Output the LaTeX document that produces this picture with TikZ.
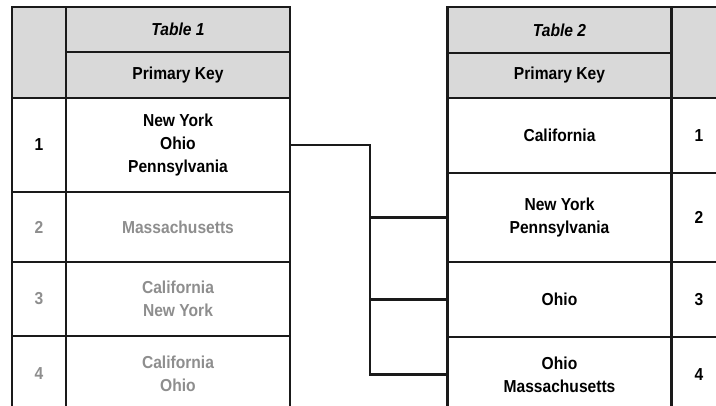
\documentclass[tikz,border=0pt]{standalone}
\usepackage{fontspec}
\setmainfont{Liberation Sans}[FakeStretch=0.9]
\usetikzlibrary{positioning}
\definecolor{ink}{HTML}{1A1A1A}
\definecolor{headgray}{HTML}{D9D9D9}
\definecolor{fade}{HTML}{8E8E8E}
\tikzset{
  cell/.style={rectangle, draw=ink, line width=2.2pt, fill=white, align=center,
               inner sep=0pt, font=\fontsize{13}{17}\selectfont\bfseries},
  headcell/.style={cell, fill=headgray},
  keycol/.style={minimum width=40.5pt},
  valcol/.style={minimum width=168pt},
  faded/.style={text=fade},
  link/.style={draw=ink, line width=1.9pt},
}

\begin{document}
\begin{tikzpicture}[x=0.75pt, y=-0.75pt]
\clip (0,0) rectangle (716,406);
\fill[white] (0,0) rectangle (716,406);
% Table 1
\node[headcell, keycol, minimum height=68.25pt] (t1kh) at (39,52.5) {};
\node[headcell, valcol, minimum height=33.75pt] (t1title) at (178,29.5) {\itshape Table 1};
\node[headcell, valcol, minimum height=34.5pt] (t1pk) at (178,75) {Primary Key};
\node[cell, keycol, minimum height=70.5pt] (t1k1) at (39,145) {1};
\node[cell, valcol, minimum height=70.5pt] (t1v1) at (178,145) {New York\\Ohio\\Pennsylvania};
\node[cell, keycol, minimum height=52.5pt, faded] (t1k2) at (39,227) {2};
\node[cell, valcol, minimum height=52.5pt, faded] (t1v2) at (178,227) {Massachusetts};
\node[cell, keycol, minimum height=55.5pt, faded] (t1k3) at (39,299) {3};
\node[cell, valcol, minimum height=55.5pt, faded] (t1v3) at (178,299) {California\\New York};
\node[cell, keycol, minimum height=57pt, faded] (t1k4) at (39,374) {4};
\node[cell, valcol, minimum height=57pt, faded] (t1v4) at (178,374) {California\\Ohio};
% Table 2
\node[headcell, keycol, minimum height=68.25pt] (t2kh) at (699,52.5) {};
\node[headcell, valcol, minimum height=34.5pt] (t2title) at (559.5,30) {\itshape Table 2};
\node[headcell, valcol, minimum height=33.75pt] (t2pk) at (559.5,75.5) {Primary Key};
\node[cell, valcol, minimum height=56.25pt] (t2v1) at (559.5,135.5) {California};
\node[cell, keycol, minimum height=56.25pt] (t2k1) at (699,135.5) {1};
\node[cell, valcol, minimum height=66.75pt] (t2v2) at (559.5,217.5) {New York\\Pennsylvania};
\node[cell, keycol, minimum height=66.75pt] (t2k2) at (699,217.5) {2};
\node[cell, valcol, minimum height=56.25pt] (t2v3) at (559.5,299.5) {Ohio};
\node[cell, keycol, minimum height=56.25pt] (t2k3) at (699,299.5) {3};
\node[cell, valcol, minimum height=56.25pt] (t2v4) at (559.5,374.5) {Ohio\\Massachusetts};
\node[cell, keycol, minimum height=56.25pt] (t2k4) at (699,374.5) {4};
% links
\coordinate (fork) at (370,0);
\draw[link] (t1v1.east) -- (t1v1.east -| fork) |- (t2v4.west);
\draw[link] (fork |- t2v2.west) -- (t2v2.west);
\draw[link] (fork |- t2v3.west) -- (t2v3.west);
\end{tikzpicture}
\end{document}
